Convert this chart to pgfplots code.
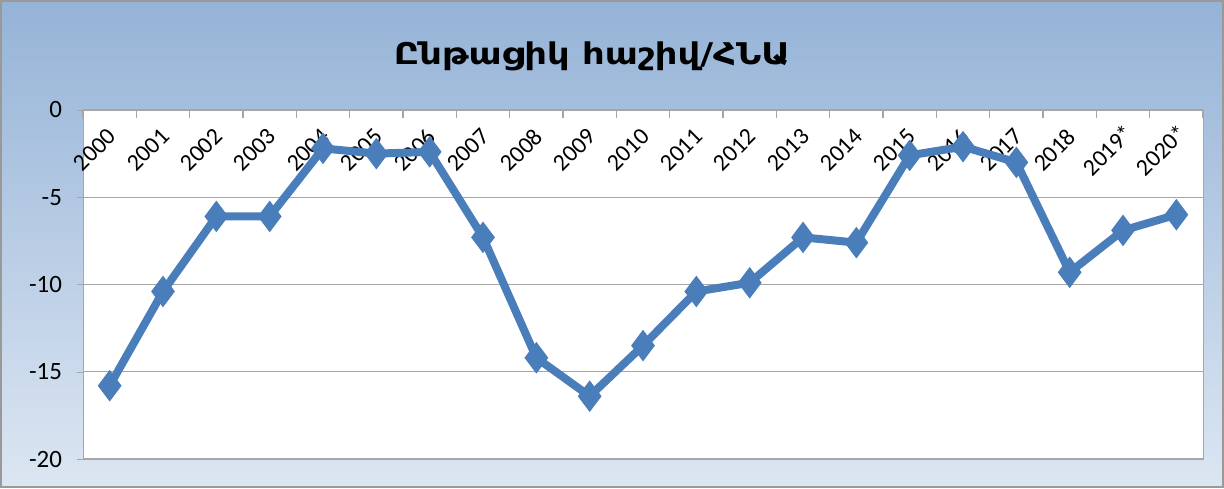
\documentclass[border=0pt]{standalone}
\usepackage{fontspec}
\setmainfont{Carlito}
\newfontfamily\armfont[FakeStretch=1.18]{DejaVu Sans}
\usepackage{pgfplots}
\pgfplotsset{compat=1.18}
\definecolor{bgtop}{HTML}{95B3D7}
\definecolor{bgbot}{HTML}{DCE6F2}
\definecolor{lineblue}{HTML}{4A7EBB}
\begin{document}
\begin{tikzpicture}[x=1bp,y=1bp]
\shade[top color=bgtop, bottom color=bgbot, draw=gray!80, line width=1bp] (0.5,0.5) rectangle (611.5,243.5);
\node[font=\armfont\bfseries\fontsize{15}{18}\selectfont] at (296,216) {Ընթացիկ հաշիվ/ՀՆԱ};
\begin{axis}[
  at={(41.5bp,14.5bp)}, anchor=south west,
  scale only axis, width=560bp, height=174.5bp,
  xmin=-0.5, xmax=20.5, ymin=-20, ymax=0,
  axis background/.style={fill=white},
  axis line style={draw=gray!70},
  ytick={-20,-15,-10,-5,0},
  ymajorgrids, grid style={gray!70, line width=0.6bp},
  ytick align=outside, ytick pos=left,
  ytick style={draw=gray!70},
  major tick length=3bp,
  yticklabel style={font=\fontsize{12.5}{14}\selectfont, xshift=-4bp},
  xtick={0,...,20},
  xticklabels={2000,2001,2002,2003,2004,2005,2006,2007,2008,2009,2010,2011,2012,2013,2014,2015,2016,2017,2018,2019*,2020*},
  xticklabel pos=upper,
  xtick style={draw=none},
  xticklabel style={font=\fontsize{12}{14}\selectfont, xshift=-7.5bp, yshift=-20bp, rotate=45, anchor=center},
  /pgf/number format/assume math mode=true,
  clip=false,
]
\pgfplotsinvokeforeach{-0.5,0.5,...,20.5}{
  \draw[gray!70, line width=0.6bp] (axis cs:#1,0) -- ([yshift=-4bp]axis cs:#1,0);
}
\addplot[color=lineblue, line width=4bp, mark=diamond*, mark size=7.5bp, mark options={fill=lineblue, draw=lineblue, line width=0.5bp}] coordinates {
(0,-15.8) (1,-10.4) (2,-6.1) (3,-6.1) (4,-2.2) (5,-2.5) (6,-2.4) (7,-7.3)
(8,-14.2) (9,-16.4) (10,-13.5) (11,-10.4) (12,-9.9) (13,-7.3) (14,-7.6)
(15,-2.6) (16,-2.1) (17,-3.0) (18,-9.3) (19,-6.9) (20,-6.0)
};
\end{axis}
\end{tikzpicture}
\end{document}
